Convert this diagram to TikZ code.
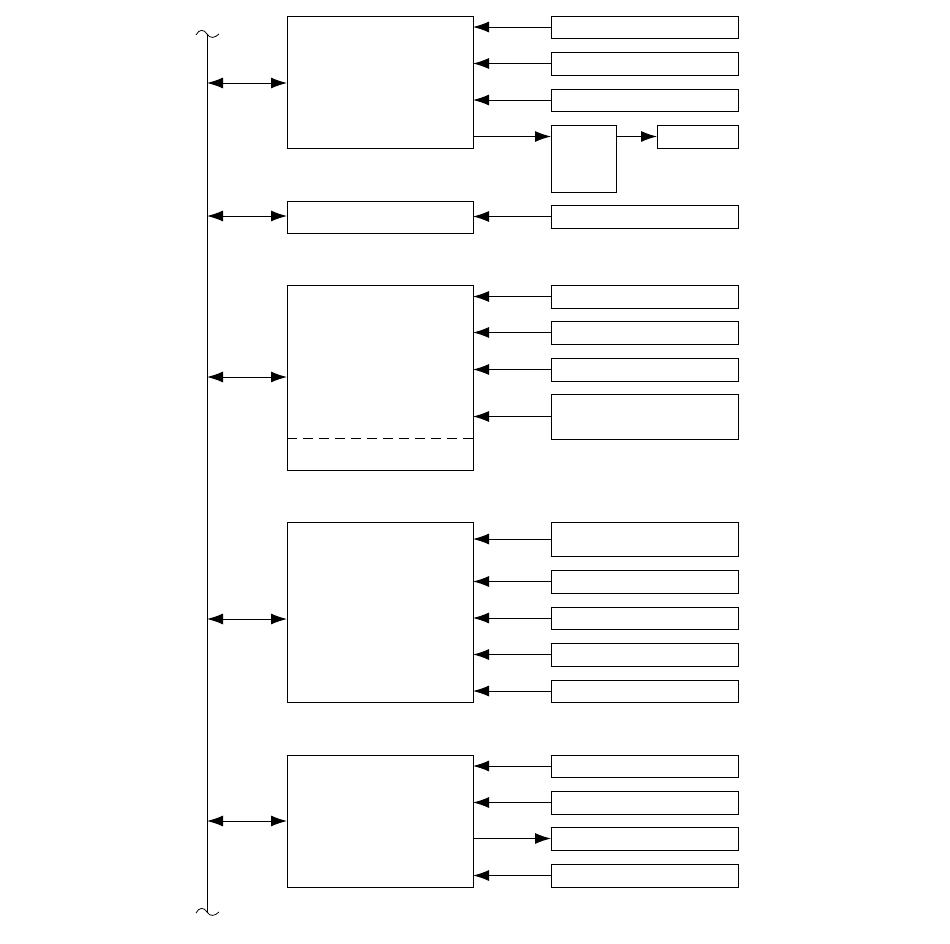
\documentclass[tikz,border=0pt]{standalone}
\usetikzlibrary{arrows.meta}
\begin{document}
\begin{tikzpicture}[x=1pt,y=-1pt,line width=1pt,
  box/.style={draw,anchor=north west,inner sep=0pt,outer sep=0pt},
  arr/.style={-{Latex[length=16pt,width=11pt]}},
  darr/.style={{Latex[length=16pt,width=11pt]}-{Latex[length=16pt,width=11pt]}}]
\useasboundingbox (0,0) rectangle (950,943);
% bus
\coordinate (bustop) at (207,35);
\coordinate (busbot) at (207,913);
\draw (bustop) -- (busbot);
\draw[line width=0.8pt] (196,35) .. controls (199,29) and (204,29) .. (207,34) .. controls (210,39) and (215,38) .. (219,34);
\draw[line width=0.8pt] (196,913) .. controls (199,907) and (204,907) .. (207,912) .. controls (210,917) and (215,916) .. (219,912);
% main boxes
\node[box,minimum width=186pt,minimum height=132pt] (A) at (287,16) {};
\node[box,minimum width=186pt,minimum height=32pt] (B) at (287,201) {};
\node[box,minimum width=186pt,minimum height=185pt] (C) at (287,285) {};
\node[box,minimum width=186pt,minimum height=180pt] (D) at (287,522) {};
\node[box,minimum width=186pt,minimum height=132pt] (E) at (287,755) {};
\draw[dash pattern=on 10pt off 6pt] (C.west |- 0,438) coordinate (cdl) -- (C.east |- cdl);
% bus arrows
\coordinate (bA) at (207,83);
\coordinate (bB) at (207,216);
\coordinate (bC) at (207,377);
\coordinate (bD) at (207,619);
\coordinate (bE) at (207,821);
\foreach \b/\n in {bA/A,bB/B,bC/C,bD/D,bE/E}
  \draw[darr] (\b) -- (\n.west |- \b);
% right boxes
\foreach \nm/\y/\h in {a1/16/22,a2/52/23,a3/89/22,b1/205/23,c1/285/23,c2/321/23,c3/358/23,c4/394/45,d1/522/34,d2/570/23,d3/607/22,d4/643/23,d5/680/22,e1/755/22,e2/791/23,e3/827/23,e4/864/23}
  \node[box,minimum width=187pt,minimum height=\h pt] (\nm) at (551,\y) {};
\node[box,minimum width=65pt,minimum height=67pt] (s) at (551,125) {};
\node[box,minimum width=81pt,minimum height=23pt] (t) at (657,125) {};
% inputs
\foreach \r/\n in {a1/A,a2/A,a3/A,b1/B,c1/C,c2/C,c3/C,c4/C,d1/D,d2/D,d3/D,d4/D,d5/D,e1/E,e2/E,e4/E}
  \draw[arr] (\r.west) -- (\n.east |- \r.west);
% outputs
\draw[arr] (A.east |- t.west) -- (s.west |- t.west);
\draw[arr] (s.east |- t.west) -- (t.west);
\draw[arr] (E.east |- e3.west) -- (e3.west);
\end{tikzpicture}
\end{document}
